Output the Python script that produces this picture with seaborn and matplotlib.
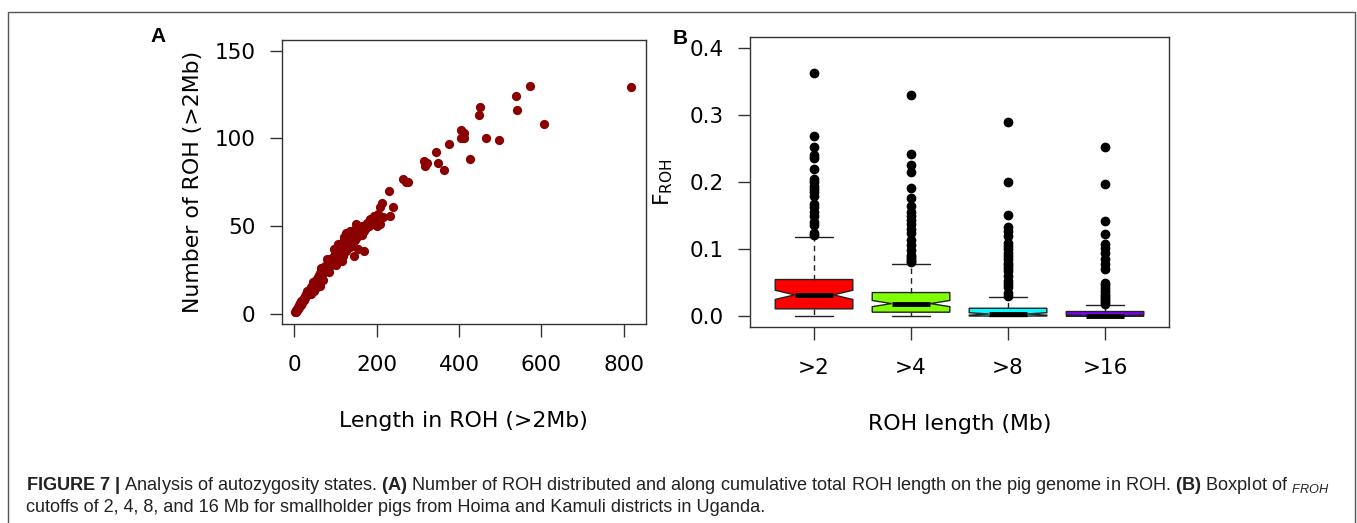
import numpy as np
import pandas as pd
import seaborn as sns
import matplotlib.pyplot as plt
from matplotlib.patches import Rectangle

# panel A: cumulative ROH length (Mb) and number of ROH per pig
roh_length_mb = [
    2, 3, 4, 5, 6, 7, 8, 9, 10, 11, 12, 13, 14, 15, 16, 17, 18, 19, 20, 22,
    23, 24, 25, 26, 28, 29, 30, 32, 33, 35, 36, 38, 40, 41, 43, 45, 46, 48, 50, 52,
    54, 55, 57, 59, 60, 62, 64, 66, 68, 70, 72, 74, 76, 78, 80, 82, 84, 86, 88, 90,
    92, 94, 96, 98, 100, 102, 104, 106, 108, 110, 112, 114, 116, 118, 120, 122, 124, 126, 128, 130,
    132, 134, 136, 138, 140, 142, 144, 146, 148, 150, 152, 155, 158, 160, 163, 165, 168, 170, 173, 176,
    180, 184, 188, 192, 196, 200, 204, 208, 215,
    30, 40, 45, 48, 55, 62, 65, 70, 80, 85, 95, 100, 105, 115, 125, 135, 145, 118, 138, 150,
    208, 213, 229, 233, 239, 263, 271, 276, 314, 316, 321, 343, 348, 364, 376, 404, 404, 411, 411, 427,
    447, 451, 465, 496, 537, 540, 572, 606, 818,
]
roh_count = [
    1, 1, 2, 2, 2, 3, 3, 4, 4, 4, 5, 5, 6, 5, 6, 7, 6, 7, 8, 8,
    9, 8, 10, 9, 10, 11, 11, 12, 11, 13, 12, 14, 15, 13, 16, 15, 17, 18, 17, 19,
    18, 20, 21, 19, 22, 23, 21, 24, 25, 23, 26, 27, 25, 28, 26, 29, 30, 27, 31, 29,
    32, 30, 33, 34, 31, 35, 33, 36, 34, 38, 35, 40, 37, 41, 44, 39, 42, 36, 45, 40,
    43, 46, 38, 44, 47, 41, 33, 45, 42, 47, 44, 37, 46, 48, 45, 50, 36, 47, 49, 52,
    50, 54, 51, 56, 53, 50, 57, 51, 55,
    13, 11, 18, 13, 15, 16, 26, 19, 31, 24, 37, 28, 40, 30, 46, 47, 48, 33, 40, 51,
    61, 63, 70, 56, 61, 77, 75, 75, 87, 84, 86, 92, 86, 82, 97, 105, 100, 103, 100, 88,
    113, 118, 100, 99, 124, 116, 130, 108, 129,
]

# panel B: F_ROH per ROH length cutoff
cutoffs = [">2", ">4", ">8", ">16"]
froh_gt2 = [
    0.0005, 0.001, 0.0015, 0.002, 0.0025, 0.003, 0.0035, 0.004, 0.0045, 0.005,
    0.0055, 0.006, 0.0065, 0.007, 0.0072, 0.0076, 0.008, 0.0084, 0.0088, 0.0092,
    0.0096, 0.010, 0.0103, 0.0106, 0.0109,
    0.0112, 0.012, 0.013, 0.014, 0.015, 0.016, 0.017, 0.018, 0.019, 0.020,
    0.021, 0.022, 0.0225, 0.023, 0.024, 0.025, 0.0255, 0.026, 0.027, 0.028,
    0.0285, 0.029, 0.030, 0.031, 0.0315,
    0.0325, 0.033, 0.034, 0.035, 0.036, 0.037, 0.038, 0.039, 0.040, 0.041,
    0.042, 0.043, 0.044, 0.045, 0.046, 0.047, 0.048, 0.049, 0.050, 0.051,
    0.052, 0.053, 0.0535, 0.054, 0.0545,
    0.056, 0.065, 0.080, 0.097, 0.118,
    0.122, 0.124, 0.137, 0.141, 0.150, 0.155, 0.163, 0.167, 0.180, 0.185,
    0.190, 0.195, 0.200, 0.205, 0.220, 0.236, 0.240, 0.253, 0.269, 0.363,
]
froh_gt4 = [
    0.0, 0.0003, 0.0006, 0.0009, 0.0012, 0.0015, 0.0018, 0.0021, 0.0024, 0.0027,
    0.003, 0.0033, 0.0036, 0.0039, 0.0042, 0.0045, 0.0047, 0.0049, 0.0051, 0.0053,
    0.0055, 0.0057, 0.0058, 0.0059, 0.006,
    0.0062, 0.0068, 0.0074, 0.008, 0.0086, 0.0092, 0.0098, 0.0104, 0.011, 0.0116,
    0.0122, 0.0128, 0.0134, 0.014, 0.0146, 0.0152, 0.0158, 0.0164, 0.017, 0.0174,
    0.0178, 0.0181, 0.0184, 0.0186, 0.0188,
    0.0192, 0.020, 0.021, 0.022, 0.023, 0.024, 0.025, 0.026, 0.027, 0.028,
    0.029, 0.0295, 0.030, 0.0305, 0.031, 0.0315, 0.032, 0.0325, 0.033, 0.0335,
    0.034, 0.0343, 0.0346, 0.035, 0.0353,
    0.036, 0.052, 0.065, 0.078,
    0.081, 0.083, 0.085, 0.088, 0.092, 0.099, 0.107, 0.114, 0.124, 0.131,
    0.138, 0.144, 0.150, 0.156, 0.164, 0.176, 0.191, 0.215, 0.226, 0.242, 0.330,
]
froh_gt8 = [
    0.0, 0.0, 0.0, 0.0, 0.0, 0.0, 0.0, 0.0, 0.0, 0.0,
    0.0001, 0.0001, 0.0001, 0.0001, 0.0001, 0.0002, 0.0002, 0.0002, 0.0002, 0.0002,
    0.0003, 0.0003, 0.0003, 0.0003, 0.0003,
    0.0004, 0.0006, 0.0008, 0.001, 0.0012, 0.0014, 0.0016, 0.0017, 0.0018, 0.0019,
    0.002, 0.0021, 0.0022, 0.0023, 0.0024, 0.0025, 0.0026, 0.0027, 0.0028, 0.0029,
    0.003, 0.0031, 0.0032, 0.0033, 0.0034,
    0.0036, 0.004, 0.0045, 0.005, 0.0055, 0.006, 0.0065, 0.007, 0.0075, 0.008,
    0.0085, 0.009, 0.0095, 0.010, 0.0103, 0.0106, 0.0109, 0.0111, 0.0113, 0.0115,
    0.0116, 0.0117, 0.0118, 0.0119, 0.012, 0.0121,
    0.020, 0.029,
    0.031, 0.035, 0.044, 0.048, 0.052, 0.060, 0.068, 0.072, 0.076, 0.080,
    0.085, 0.090, 0.095, 0.100, 0.105, 0.110, 0.120, 0.128, 0.134, 0.151,
    0.200, 0.290,
]
froh_gt16 = [
    0.0, 0.0, 0.0, 0.0, 0.0, 0.0, 0.0, 0.0, 0.0, 0.0,
    0.0, 0.0, 0.0, 0.0, 0.0, 0.0, 0.0, 0.0, 0.0, 0.0,
    0.0, 0.0, 0.0, 0.0, 0.0, 0.0, 0.0, 0.0, 0.0, 0.0,
    0.0001, 0.0001, 0.0002, 0.0002, 0.0003, 0.0003, 0.0004, 0.0004, 0.0005, 0.0005,
    0.0006, 0.0006, 0.0007, 0.0007, 0.0008, 0.0008, 0.0009, 0.0009, 0.001, 0.001,
    0.0012, 0.0015, 0.0018, 0.0021, 0.0024, 0.0027, 0.003, 0.0033, 0.0036, 0.0039,
    0.0042, 0.0045, 0.0048, 0.0051, 0.0054, 0.0057, 0.006, 0.0062, 0.0064, 0.0066,
    0.0067, 0.0068, 0.0069, 0.007, 0.0071,
    0.0072, 0.009, 0.011, 0.014, 0.0164,
    0.019, 0.021, 0.024, 0.027, 0.030, 0.034, 0.038, 0.042, 0.046, 0.050,
    0.070, 0.078, 0.085, 0.094, 0.102, 0.108, 0.123, 0.142, 0.198, 0.252,
]
box_colors = ["#FF0000", "#80FF00", "#00FFFF", "#8000FF"]

caption_1 = (r"$\mathbf{FIGURE\ 7\ |}$ Analysis of autozygosity states. $\mathbf{(A)}$ Number of ROH "
             r"distributed and along cumulative total ROH length on the pig genome in ROH. "
             r"$\mathbf{(B)}$ Boxplot of $_{\mathit{FROH}}$")
caption_2 = "cutoffs of 2, 4, 8, and 16 Mb for smallholder pigs from Hoima and Kamuli districts in Uganda."

sns.set_theme(style="ticks")
plt.rcParams["font.family"] = ["DejaVu Sans"]
plt.rcParams.update({
    "mathtext.fontset": "custom",
    "mathtext.rm": "Liberation Sans",
    "mathtext.bf": "Liberation Sans:bold",
    "mathtext.it": "Liberation Sans:italic",
    "mathtext.sf": "DejaVu Sans",
    "axes.edgecolor": "#333333",
    "axes.linewidth": 1.0,
    "text.color": "black",
    "axes.labelcolor": "black",
    "xtick.labelcolor": "black",
    "ytick.labelcolor": "black",
})

fig = plt.figure(figsize=(13.57, 5.23), dpi=100)
axA = fig.add_axes([0.2076, 0.3799, 0.2682, 0.5436])
axB = fig.add_axes([0.5527, 0.3742, 0.3088, 0.5545])

# A
sns.scatterplot(x=roh_length_mb, y=roh_count, color="#8B0000", s=44,
                linewidth=0, ax=axA)
axA.set_xlim(-31, 853)
axA.set_ylim(-6, 156)
axA.set_xticks([0, 200, 400, 600, 800])
axA.set_yticks([0, 50, 100, 150])
axA.set_xlabel("Length in ROH (>2Mb)", fontsize=15.8, labelpad=26)
axA.set_ylabel("Number of ROH (>2Mb)", fontsize=15.8, labelpad=8)

# B
df = pd.DataFrame({
    "cutoff": [c for c, v in zip(cutoffs, [froh_gt2, froh_gt4, froh_gt8, froh_gt16]) for _ in v],
    "froh": froh_gt2 + froh_gt4 + froh_gt8 + froh_gt16,
})
sns.boxplot(data=df, x="cutoff", y="froh", hue="cutoff", palette=box_colors,
            saturation=1, legend=False, notch=True, width=0.8,
            linecolor="#222222", linewidth=1,
            medianprops=dict(color="black", linewidth=3.5),
            whiskerprops=dict(linestyle=(0, (4, 3))),
            flierprops=dict(marker="o", markerfacecolor="black",
                            markeredgecolor="black", markersize=6),
            ax=axB)
axB.set_xlim(-0.66, 3.66)
axB.set_ylim(-0.0164, 0.4164)
axB.set_yticks([0.0, 0.1, 0.2, 0.3, 0.4])
axB.set_yticklabels(["0.0", "0.1", "0.2", "0.3", "0.4"])
axB.set_xlabel("ROH length (Mb)", fontsize=15.8, labelpad=26)
axB.set_ylabel(r"F$_{\mathsf{ROH}}$", fontsize=15.8, labelpad=10)

for ax in (axA, axB):
    for s in ax.spines.values():
        s.set_visible(True)
    ax.tick_params(length=9, width=1, labelsize=15.5, color="#333333")
    ax.tick_params(axis="x", pad=13)
    ax.tick_params(axis="y", pad=10)

fig.text(158 / 1357, 1 - 37 / 523, "A", fontsize=15, fontweight="bold",
         family="Liberation Sans", ha="center", va="center")
fig.text(680 / 1357, 1 - 38 / 523, "B", fontsize=15, fontweight="bold",
         family="Liberation Sans", ha="center", va="center")

fig.text(26 / 1357, 1 - 485 / 523, caption_1, fontsize=13.1,
         family="Liberation Sans", color="#222222", va="center")
fig.text(26 / 1357, 1 - 507 / 523, caption_2, fontsize=13.1,
         family="Liberation Sans", color="#222222", va="center")

fig.add_artist(Rectangle((8 / 1357, -0.02), 1347 / 1357, 0.999 - 11 / 523 + 0.02,
                         transform=fig.transFigure, fill=False,
                         edgecolor="#555555", linewidth=1))

fig.savefig("out.png", dpi=100)
